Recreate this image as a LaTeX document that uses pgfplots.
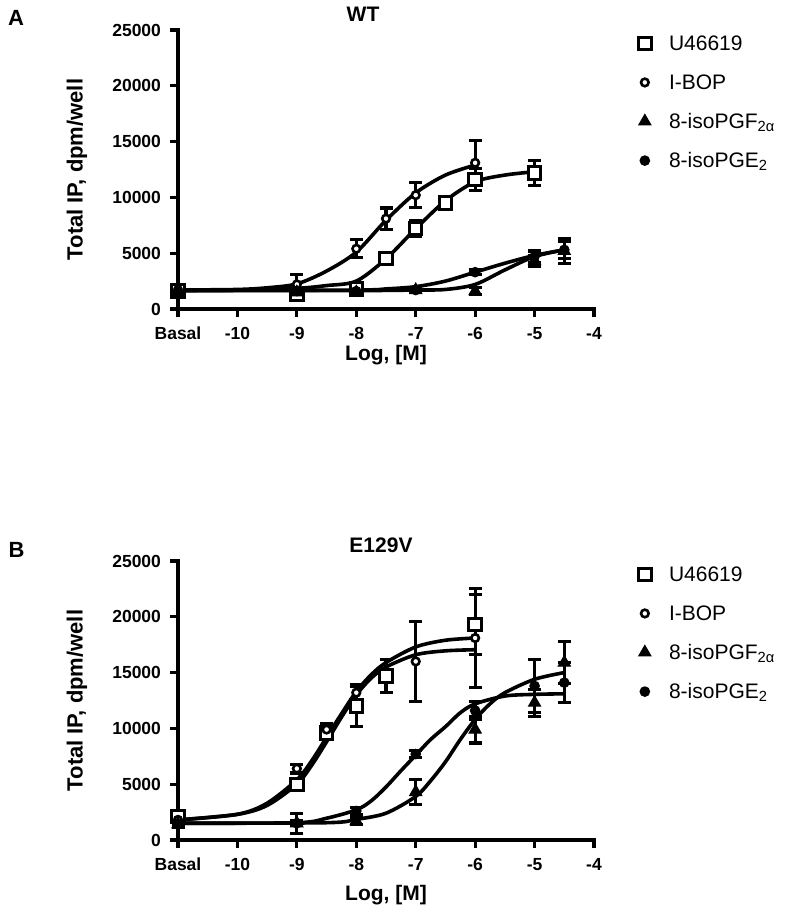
\documentclass[border=0pt]{standalone}
\usepackage{fontspec}
\setmainfont{Liberation Sans}
\usepackage{pgfplots}
\pgfplotsset{compat=1.18}

\pgfplotsset{
  dose/.style={
    scale only axis, width=416pt, height=279pt,
    xmin=-11, xmax=-4, ymin=0, ymax=25000,
    line width=3.4pt,
    axis lines=left, axis line style={-, line width=3.4pt, line cap=rect},
    tick align=outside, major tick length=8pt,
    every tick/.style={line width=3.2pt, black},
    scaled y ticks=false,
    xtick={-11,-10,...,-4}, xticklabels={Basal,-10,-9,-8,-7,-6,-5,-4},
    ytick={0,5000,...,25000}, yticklabels={0,5000,10000,15000,20000,25000},
    ticklabel style={font=\fontsize{17.5}{17.5}\selectfont\bfseries},
    xticklabel style={yshift=-5pt},
    yticklabel style={xshift=-4pt},
    xlabel={Log, [M]}, ylabel={Total IP, dpm/well},
    label style={font=\fontsize{21}{21}\selectfont\bfseries},
    every axis y label/.style={at={(axis description cs:-0.243,0.5)}, rotate=90, anchor=center,
      font=\fontsize{22}{22}\selectfont\bfseries},
    clip=false,
    legend style={draw=none, fill=none, anchor=north west, legend cell align=left,
      font=\fontsize{21}{21}\selectfont, row sep=18.5pt, column sep=16pt},
  },
  curve/.style={black, line width=3.6pt, smooth, no markers, forget plot},
  errs/.style={error bars/.cd, y dir=both, y explicit,
    error bar style={line width=3.2pt, black},
    error mark options={rotate=90, line width=3.2pt, mark size=6.5pt, black}},
  sq/.style={only marks, mark=square*, mark size=6.2pt, mark options={fill=white, draw=black, line width=3pt}, errs},
  circ/.style={only marks, mark=*, mark size=3.8pt, mark options={fill=white, draw=black, line width=2.6pt}, errs},
  tri/.style={only marks, mark=triangle*, mark size=7pt, mark options={fill=black, draw=black, line width=1pt}, errs},
  dot/.style={only marks, mark=*, mark size=4.8pt, mark options={fill=black, draw=black, line width=1pt}, errs},
}

\begin{document}
\begin{tikzpicture}
\useasboundingbox (0,0) rectangle (793pt,914pt);

% ---- panel A : WT ----
\begin{axis}[dose, at={(178pt,605pt)}, anchor=south west,
  xlabel style={at={(axis description cs:0.5,-0.165)}, anchor=center},
  legend style={at={(axis description cs:1.096,1.0)}}]
\addplot[curve] coordinates {(-11,1650) (-10,1700) (-9,1850) (-8.5,2100) (-8,2500) (-7.5,4500) (-7,7200) (-6.5,9700) (-6,11400) (-5.5,12000) (-5,12300)};
\addplot[curve] coordinates {(-11,1700) (-10,1750) (-9.5,1900) (-9,2250) (-8.5,3400) (-8,5100) (-7.5,7950) (-7,10400) (-6.5,12000) (-6,12900)};
\addplot[curve] coordinates {(-11,1650) (-8,1650) (-7,1700) (-6.5,1750) (-6,2200) (-5.5,3500) (-5,4700) (-4.5,5300)};
\addplot[curve] coordinates {(-11,1650) (-8,1700) (-7.5,1800) (-7,2000) (-6.5,2500) (-6,3300) (-5.5,4100) (-5,4800) (-4.5,5300)};
\addplot[sq] table[x=x, y=y, y error=e] {
x y e
-11 1600 300
-9 1300 400
-8 1800 300
-7.5 4500 300
-7 7200 700
-6.5 9500 300
-6 11600 1000
-5 12200 1100
};
\addplot[circ] table[x=x, y=y, y error=e] {
x y e
-11 1700 300
-9 2200 900
-8 5400 800
-7.5 8100 950
-7 10200 1100
-6 13100 2000
};
\addplot[tri] table[x=x, y=y, y error=e] {
x y e
-11 1500 300
-9 1500 200
-8 1500 200
-7 1700 200
-6 1600 300
-5 4300 500
-4.5 5200 1100
};
\addplot[dot] table[x=x, y=y, y error=e] {
x y e
-11 1600 300
-9 1600 200
-8 1600 200
-7 1700 200
-6 3300 200
-5 4700 500
-4.5 5300 800
};
\legend{U46619, I-BOP, 8-isoPGF\textsubscript{2α}, 8-isoPGE\textsubscript{2}}
\end{axis}

% ---- panel B : E129V ----
\begin{axis}[dose, at={(178pt,74pt)}, anchor=south west,
  xlabel style={at={(axis description cs:0.5,-0.197)}, anchor=center},
  legend style={at={(axis description cs:1.096,1.0)}}]
\addplot[curve] coordinates {(-11,1800) (-10,2300) (-9.5,3300) (-9,5400) (-8.75,7100) (-8.5,9200) (-8.25,11300) (-8,13300) (-7.75,14800) (-7.5,15900) (-7,17300) (-6.5,17900) (-6,18100)};
\addplot[curve] coordinates {(-11,1800) (-10,2300) (-9.5,3100) (-9,5000) (-8.75,6700) (-8.5,8800) (-8.25,11000) (-8,13000) (-7.75,14500) (-7.5,15500) (-7,16600) (-6.5,16950) (-6,17050)};
\addplot[curve] coordinates {(-11,1500) (-8.5,1550) (-8,1850) (-7.5,2400) (-7,3900) (-6.75,5300) (-6.5,7000) (-6.25,9000) (-6,10800) (-5.75,12200) (-5.5,13200) (-5,14400) (-4.5,15000)};
\addplot[curve] coordinates {(-11,1500) (-9,1550) (-8.5,1950) (-8,2700) (-7.75,3500) (-7.5,4750) (-7.25,6200) (-7,7600) (-6.75,9000) (-6.5,10150) (-6.25,11400) (-6,12200) (-5.5,12900) (-5,13050) (-4.5,13100)};
\addplot[sq] table[x=x, y=y, y error=e] {
x y e
-11 2100 400
-9 5000 400
-8.5 9600 600
-8 12000 1800
-7.5 14700 1500
-6 19300 2700
};
\addplot[circ] table[x=x, y=y, y error=e] {
x y e
-11 1800 300
-9 6400 400
-8.5 9900 500
-8 13200 700
-7 16000 3600
-6 18100 4400
};
\addplot[tri] table[x=x, y=y, y error=e] {
x y e
-11 1400 300
-9 1500 900
-8 1700 300
-7 4300 1100
-6 9900 1200
-5 12300 1200
-4.5 15900 1900
};
\addplot[dot] table[x=x, y=y, y error=e] {
x y e
-11 1500 300
-9 1500 200
-8 2600 300
-7 7700 300
-6 11600 800
-5 13800 2400
-4.5 14100 1800
};
\legend{U46619, I-BOP, 8-isoPGF\textsubscript{2α}, 8-isoPGE\textsubscript{2}}
\end{axis}

\node[font=\fontsize{21}{21}\selectfont\bfseries] at (363pt,899.5pt) {WT};
\node[font=\fontsize{21}{21}\selectfont\bfseries] at (381pt,369pt) {E129V};
\node[font=\fontsize{22}{22}\selectfont\bfseries] at (16pt,896.5pt) {A};
\node[font=\fontsize{22}{22}\selectfont\bfseries] at (16.5pt,364pt) {B};
\end{tikzpicture}
\end{document}
